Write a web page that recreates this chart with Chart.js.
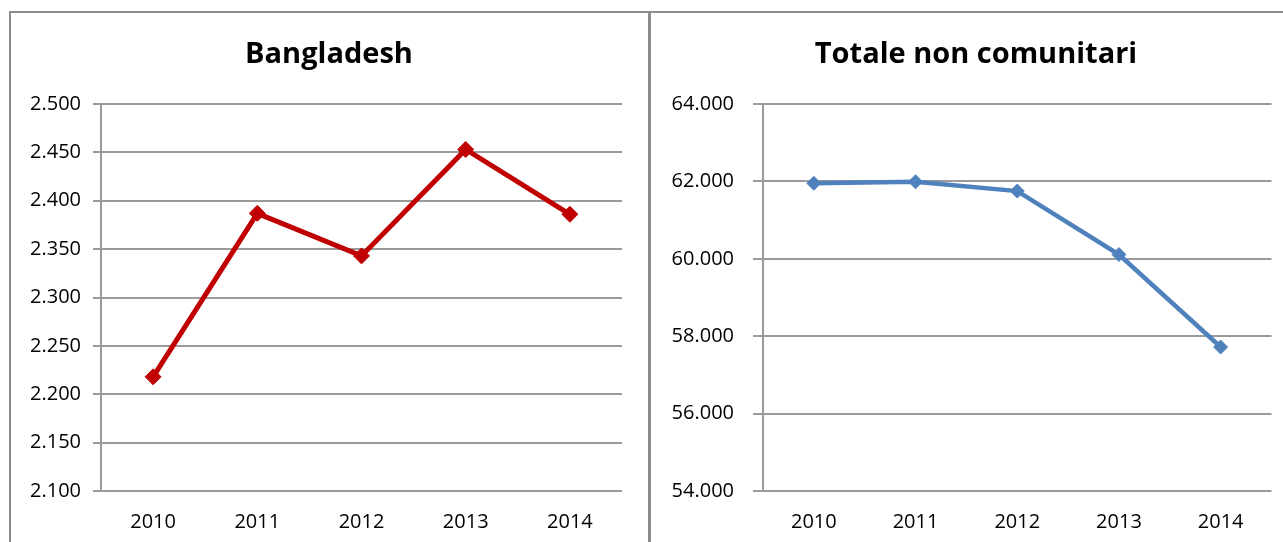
<!DOCTYPE html>
<html>
<head>
<meta charset="utf-8">
<script src="https://cdn.jsdelivr.net/npm/chart.js@4.4.1/dist/chart.umd.min.js"></script>
<style>
  html, body { margin: 0; padding: 0; background: #fff; overflow: hidden; }
  body { width: 1283px; height: 542px; position: relative; }
  .frame { position: absolute; box-sizing: border-box; border-color: #8c8c8c; border-style: solid; }
  #frameLeft { left: 9px; top: 11px; width: 641px; height: 560px; border-width: 2px 2px 0 2px; }
  #frameRight { left: 649px; top: 11px; width: 700px; height: 560px; border-width: 2px 0 0 2px; }
  canvas { position: absolute; }
  #chartLeft { left: 10px; top: 12px; }
  #chartRight { left: 650px; top: 12px; }
</style>
</head>
<body>
<div class="frame" id="frameLeft"></div>
<div class="frame" id="frameRight"></div>
<canvas id="chartLeft" width="638" height="530"></canvas>
<canvas id="chartRight" width="652" height="530"></canvas>
<script>
// Dati
const years = ['2010', '2011', '2012', '2013', '2014'];
const bangladesh = [2218, 2387, 2343, 2453, 2386];
const nonComunitari = [61950, 61990, 61750, 60110, 57720];
const bangladeshTicks = [2100, 2500, 50];      // min, max, step
const nonComunitariTicks = [54000, 64000, 2000];

const gridColor = '#9a9a9a';

Chart.defaults.font.family = '"Open Sans", "Liberation Sans", sans-serif';
Chart.defaults.color = '#000';

// formato italiano: 2.500 / 64.000
function fmt(v) {
  return String(Math.round(v)).replace(/\B(?=(\d{3})+(?!\d))/g, '.');
}

function makeChart(id, title, data, ticks, opts) {
  const ctx = document.getElementById(id).getContext('2d');
  return new Chart(ctx, {
    type: 'line',
    data: {
      labels: years,
      datasets: [{
        label: title,
        data: data,
        borderColor: opts.color,
        backgroundColor: opts.color,
        borderWidth: opts.lineWidth,
        pointStyle: 'rectRot',
        pointRadius: opts.pointRadius,
        pointBorderWidth: 1,
        pointBackgroundColor: opts.color,
        pointBorderColor: opts.color,
        tension: 0,
        fill: false
      }]
    },
    options: {
      responsive: false,
      animation: false,
      devicePixelRatio: 1,
      layout: { padding: 0 },
      plugins: {
        legend: { display: false },
        tooltip: { enabled: false },
        title: {
          display: true,
          text: title,
          color: '#000',
          font: { size: 29, weight: 'bold' },
          padding: { top: 25.6, bottom: 31.6 }
        }
      },
      scales: {
        x: {
          offset: true,
          grid: { display: false, drawTicks: false },
          border: { display: false },
          ticks: { font: { size: 20 }, padding: 19, maxRotation: 0, color: '#000' },
          afterFit: s => { s.height = 51; }
        },
        y: {
          min: ticks[0],
          max: ticks[1],
          grid: { color: gridColor, lineWidth: 2, tickLength: opts.tickLen, drawTicks: true },
          border: { display: true, color: gridColor, width: 2 },
          ticks: {
            stepSize: ticks[2],
            font: { size: 20 },
            padding: opts.tickPad,
            color: '#000',
            callback: v => fmt(v)
          },
          afterFit: s => { s.width = opts.axisWidth; }
        },
        // asse vuoto a destra: solo spazio, così il titolo resta centrato sul riquadro
        spacer: {
          type: 'linear',
          position: 'right',
          grid: { display: false, drawTicks: false },
          border: { display: false },
          ticks: { display: false },
          afterFit: s => { s.width = opts.rightPad; }
        }
      }
    }
  });
}

makeChart('chartLeft', 'Bangladesh', bangladesh, bangladeshTicks, {
  color: '#c00000', pointRadius: 8, lineWidth: 5,
  rightPad: 26, axisWidth: 91, tickLen: 8, tickPad: 12
});

makeChart('chartRight', 'Totale non comunitari', nonComunitari, nonComunitariTicks, {
  color: '#4f81bd', pointRadius: 7, lineWidth: 4.5,
  rightPad: 30.5, axisWidth: 113, tickLen: 10, tickPad: 19
});
</script>
</body>
</html>
